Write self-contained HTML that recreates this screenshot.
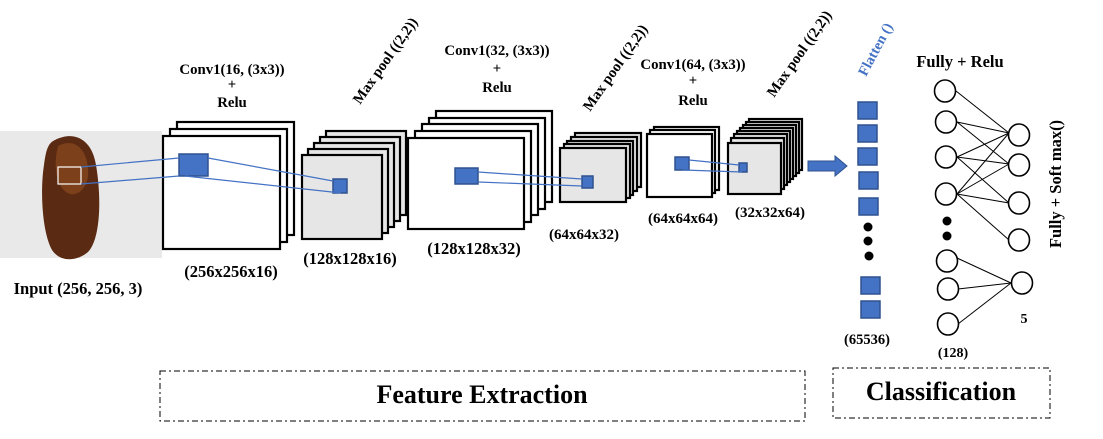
<!DOCTYPE html>
<html><head><meta charset="utf-8"><style>
body{margin:0;background:#fff}
svg{display:block}
text{font-family:"Liberation Serif",serif;font-weight:bold;fill:#000}
</style></head><body>
<svg width="1103" height="439" viewBox="0 0 1103 439">
<!-- input photo -->
<rect x="0" y="131" width="162" height="127" fill="#e9e9e9"/>
<path d="M55,140 C75,130 92,140 96,165 C102,200 100,240 88,252 C76,262 60,262 52,250 C42,232 40,190 44,165 C46,150 48,143 55,140 Z" fill="#5a2a12"/>
<path d="M58,146 C72,138 86,146 88,168 C90,185 80,196 70,194 C58,190 52,170 58,146 Z" fill="#8a4a1e" opacity="0.7"/>
<rect x="58" y="167" width="23" height="17" fill="none" stroke="#fff" stroke-width="1.2"/>
<text x="78" y="294" font-size="16.5" text-anchor="middle">Input (256, 256, 3)</text>

<g stroke="#000" stroke-width="2.2">
<rect x="177" y="122" width="117" height="113" fill="#fff"/>
<rect x="170" y="129" width="117" height="113" fill="#fff"/>
<rect x="163" y="136" width="117" height="113" fill="#fff"/>
<rect x="326" y="131" width="80" height="84" fill="#e6e6e6"/>
<rect x="320" y="137" width="80" height="84" fill="#e6e6e6"/>
<rect x="314" y="143" width="80" height="84" fill="#e6e6e6"/>
<rect x="308" y="149" width="80" height="84" fill="#e6e6e6"/>
<rect x="302" y="155" width="80" height="84" fill="#e6e6e6"/>
<rect x="436" y="111" width="116" height="91" fill="#fff"/>
<rect x="429" y="118" width="116" height="91" fill="#fff"/>
<rect x="422" y="124" width="116" height="91" fill="#fff"/>
<rect x="415" y="131" width="116" height="91" fill="#fff"/>
<rect x="408" y="138" width="116" height="91" fill="#fff"/>
<rect x="575" y="133" width="66" height="54" fill="#e6e6e6"/>
<rect x="571" y="137" width="66" height="54" fill="#e6e6e6"/>
<rect x="567" y="141" width="66" height="54" fill="#e6e6e6"/>
<rect x="564" y="144" width="66" height="54" fill="#e6e6e6"/>
<rect x="560" y="148" width="66" height="54" fill="#e6e6e6"/>
<rect x="654" y="127" width="65" height="63" fill="#fff"/>
<rect x="650" y="130" width="65" height="63" fill="#fff"/>
<rect x="647" y="134" width="65" height="63" fill="#fff"/>
<rect x="749" y="119" width="53" height="51" fill="#e6e6e6"/>
<rect x="746" y="122" width="53" height="51" fill="#e6e6e6"/>
<rect x="743" y="125" width="53" height="51" fill="#e6e6e6"/>
<rect x="740" y="128" width="53" height="51" fill="#e6e6e6"/>
<rect x="737" y="131" width="53" height="51" fill="#e6e6e6"/>
<rect x="734" y="134" width="53" height="51" fill="#e6e6e6"/>
<rect x="731" y="138" width="53" height="51" fill="#e6e6e6"/>
<rect x="728" y="143" width="53" height="51" fill="#e6e6e6"/>
</g>

<g fill="#4472c4" stroke="#2f528f" stroke-width="1.5">
<rect x="179" y="154" width="29" height="22"/>
<rect x="333" y="179" width="14" height="14"/>
<rect x="455" y="168" width="23" height="16"/>
<rect x="582" y="176" width="11" height="12"/>
<rect x="675" y="157" width="14" height="13"/>
<rect x="739" y="163" width="8" height="9"/>
</g>
<g stroke="#4472c4" stroke-width="1.2" fill="none">
<line x1="81" y1="167" x2="179" y2="158"/>
<line x1="81" y1="184" x2="179" y2="176"/>
<line x1="208" y1="158" x2="333" y2="181"/>
<line x1="185" y1="176" x2="341" y2="193"/>
<line x1="478" y1="172" x2="582" y2="179"/>
<line x1="478" y1="182" x2="582" y2="186"/>
<line x1="689" y1="160" x2="739" y2="165"/>
<line x1="683" y1="170" x2="742" y2="172"/>
</g>

<path d="M808,161 L835,161 L835,156 L847,166 L835,176 L835,171 L808,171 Z" fill="#4472c4" stroke="#2f528f" stroke-width="1"/>

<g fill="#4472c4" stroke="#2f528f" stroke-width="1.5">
<rect x="858" y="102" width="19" height="17"/>
<rect x="858" y="125" width="19" height="17"/>
<rect x="858" y="148" width="19" height="17"/>
<rect x="859" y="172" width="19" height="17"/>
<rect x="859" y="198" width="19" height="17"/>
<rect x="861" y="277" width="19" height="17"/>
<rect x="861" y="301" width="19" height="17"/>
</g>
<circle cx="868" cy="227" r="4.5"/><circle cx="868" cy="241" r="4.5"/><circle cx="869" cy="256" r="4.5"/>
<text x="867" y="344" font-size="14.5" text-anchor="middle">(65536)</text>

<g stroke="#000" stroke-width="1" fill="none">
<line x1="956" y1="91" x2="1009" y2="133"/>
<line x1="957" y1="122" x2="1009" y2="133"/>
<line x1="957" y1="122" x2="1009" y2="164"/>
<line x1="957" y1="157" x2="1009" y2="133"/>
<line x1="957" y1="157" x2="1009" y2="164"/>
<line x1="957" y1="157" x2="1009" y2="203"/>
<line x1="957" y1="194" x2="1009" y2="133"/>
<line x1="957" y1="194" x2="1009" y2="164"/>
<line x1="957" y1="194" x2="1009" y2="203"/>
<line x1="957" y1="194" x2="1009" y2="240"/>
<line x1="957" y1="258" x2="1011" y2="283"/>
<line x1="958" y1="289" x2="1011" y2="283"/>
<line x1="958" y1="324" x2="1011" y2="283"/>
</g>
<g stroke="#000" stroke-width="1.6" fill="#fff">
<ellipse cx="945" cy="91" rx="10.5" ry="11"/>
<ellipse cx="946" cy="122" rx="10.5" ry="11"/>
<ellipse cx="946" cy="157" rx="10.5" ry="11"/>
<ellipse cx="946" cy="194" rx="10.5" ry="11"/>
<ellipse cx="947" cy="261" rx="10.5" ry="11"/>
<ellipse cx="948" cy="289" rx="10.5" ry="11"/>
<ellipse cx="948" cy="324" rx="10.5" ry="11"/>
<ellipse cx="1019" cy="135" rx="10.5" ry="11"/>
<ellipse cx="1019" cy="165" rx="10.5" ry="11"/>
<ellipse cx="1019" cy="203" rx="10.5" ry="11"/>
<ellipse cx="1019" cy="240" rx="10.5" ry="11"/>
<ellipse cx="1022" cy="283" rx="10.5" ry="11"/>
</g>
<circle cx="947" cy="221" r="4.5"/><circle cx="947" cy="236" r="4.5"/>
<text x="1024" y="323" font-size="14" text-anchor="middle">5</text>
<text x="953" y="357" font-size="14" text-anchor="middle">(128)</text>
<text x="960" y="67" font-size="16.5" text-anchor="middle">Fully + Relu</text>
<text transform="translate(1061,184) rotate(-90)" font-size="16.5" text-anchor="middle">Fully + Soft max()</text>

<g font-size="14.8" text-anchor="middle">
<text x="232" y="74">Conv1(16, (3x3))</text>
<text x="232" y="89">+</text>
<text x="232" y="107">Relu</text>
<text x="497" y="55">Conv1(32, (3x3))</text>
<text x="497" y="73">+</text>
<text x="497" y="92">Relu</text>
<text x="693" y="69">Conv1(64, (3x3))</text>
<text x="693" y="85">+</text>
<text x="693" y="105">Relu</text>
</g>
<g font-size="14.8">
<text transform="translate(360,105) rotate(-55)">Max pool ((2,2))</text>
<text transform="translate(590,112) rotate(-55)">Max pool ((2,2))</text>
<text transform="translate(774,98) rotate(-55)">Max pool ((2,2))</text>
<text transform="translate(866,77) rotate(-62)" style="fill:#4472c4" font-size="14.5">Flatten ()</text>
</g>

<g font-size="16.5" text-anchor="middle">
<text x="231" y="277">(256x256x16)</text>
<text x="350" y="264">(128x128x16)</text>
<text x="474" y="254">(128x128x32)</text>
<text x="584" y="239" font-size="15">(64x64x32)</text>
<text x="683" y="223" font-size="15">(64x64x64)</text>
<text x="770" y="217" font-size="15">(32x32x64)</text>
</g>

<rect x="160" y="371" width="645" height="50" fill="none" stroke="#000" stroke-width="1" stroke-dasharray="6,3,2,3"/>
<rect x="833" y="368" width="217" height="50" fill="none" stroke="#000" stroke-width="1" stroke-dasharray="6,3,2,3"/>
<text x="482" y="403" font-size="26" text-anchor="middle">Feature Extraction</text>
<text x="941" y="400" font-size="26" text-anchor="middle">Classification</text>
</svg>
</body></html>
